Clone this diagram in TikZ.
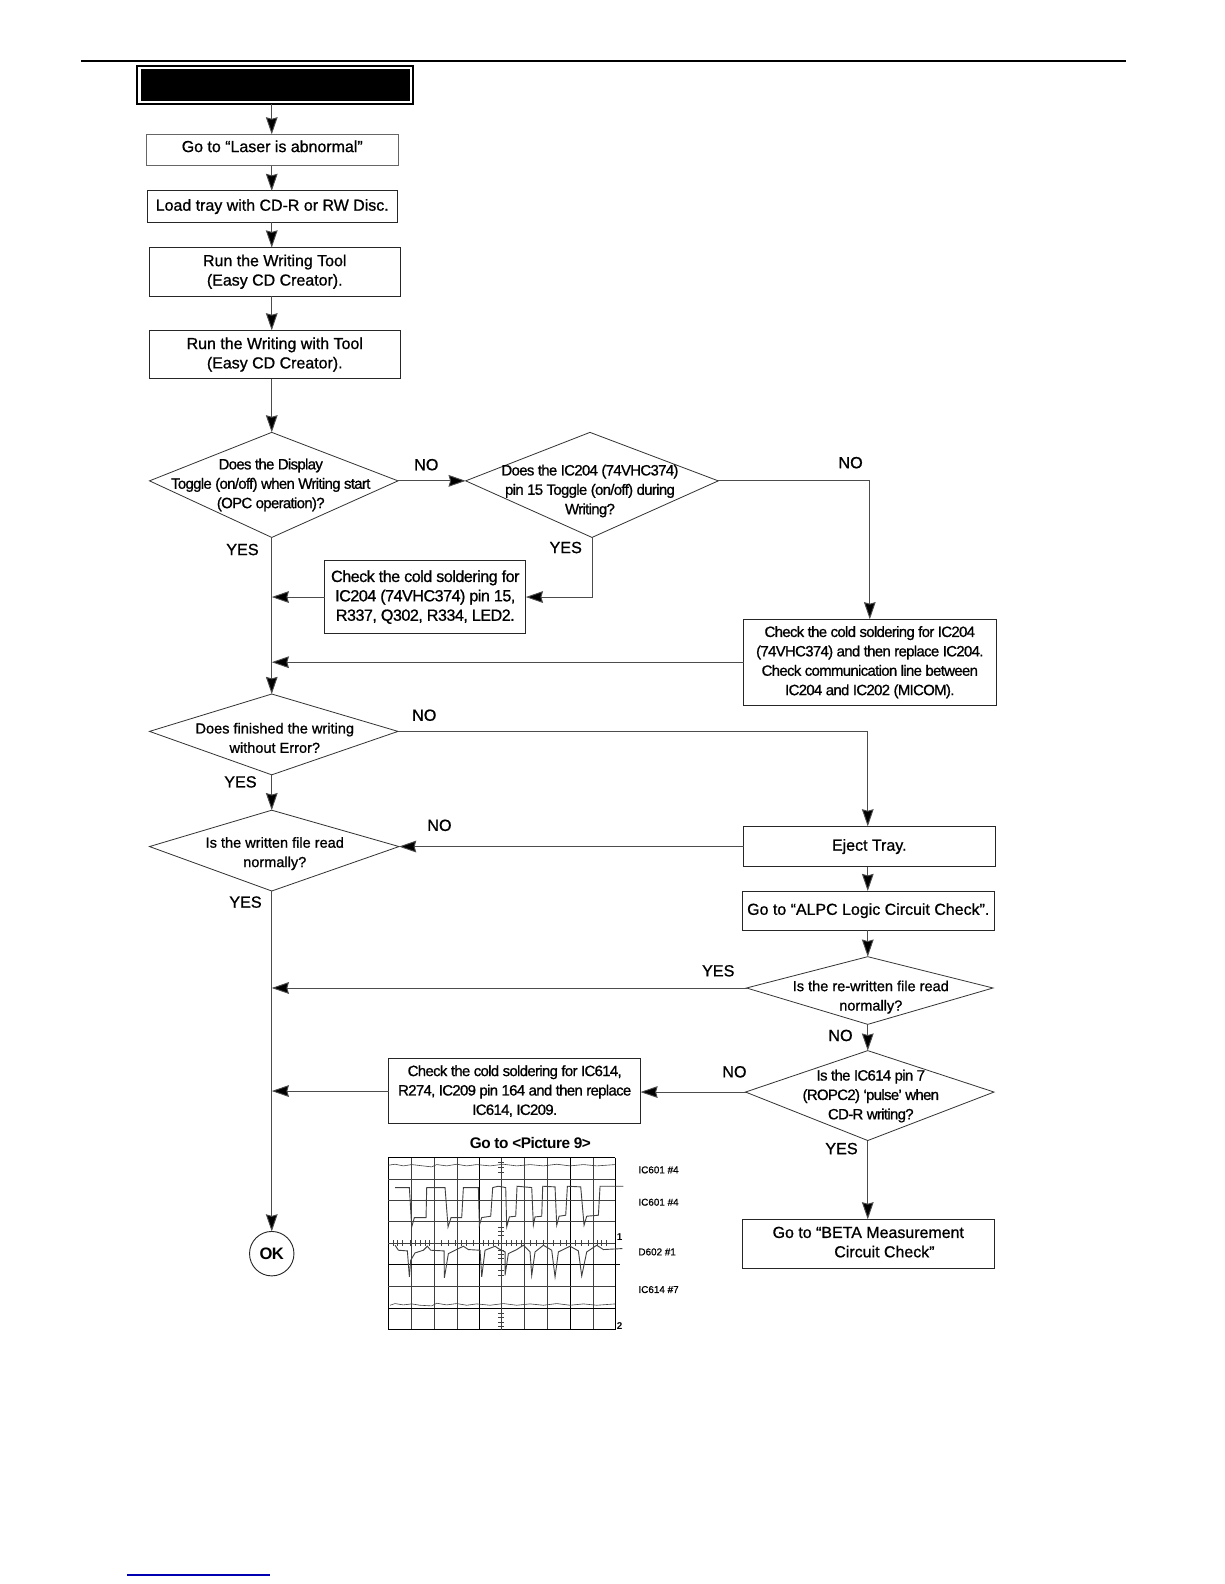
\documentclass[tikz,border=0pt]{standalone}
\usepackage{fontspec}
\setmainfont[FakeBold=0.9]{Liberation Sans}
\newfontfamily\tightf[FakeBold=0.9,LetterSpace=-4.5]{Liberation Sans}
\newfontfamily\trackf[FakeBold=0.9,LetterSpace=-3.2]{Liberation Sans}
\newfontfamily\boldf[LetterSpace=-3]{Liberation Sans Bold}
\usetikzlibrary{arrows.meta}
\tikzset{
  flowbox/.style={draw=black!85,line width=0.45pt,rectangle,inner sep=0pt,outer sep=0pt,align=center,font=\fontsize{7.9}{9.6}\selectfont},
  decline/.style={draw=black!80,line width=0.4pt},
  dplain/.style={align=center,inner sep=0pt,font=\fontsize{7.2}{9.6}\selectfont},
  dtight/.style={align=center,inner sep=0pt,font=\tightf\fontsize{7.4}{9.6}\selectfont},
  flow/.style={draw=black!70,line width=0.45pt,-{Stealth[inset=0.8pt,length=8.5pt,width=5.8pt,fill=black]}},
  lab/.style={font=\fontsize{8}{9.6}\selectfont,inner sep=0pt},
  scopelab/.style={font=\fontsize{4.9}{6}\selectfont,inner sep=0pt,anchor=west},
  gridthin/.style={draw=black!75,line width=0.3pt},
  gridthick/.style={draw=black,line width=0.5pt},
  trace/.style={draw=black!75,line width=0.3pt}
}
\newcommand{\boxat}[7][]{\node[flowbox,minimum width=#5*0.5pt,minimum height=#6*0.5pt,#1] (#2) at (#3,#4) {#7};}
% name, topx, topy, bottomx, bottomy, leftx, rightx, sidey
\newcommand{\decpts}[8]{%
  \coordinate (#1n) at (#2,#3); \coordinate (#1s) at (#4,#5);
  \coordinate (#1w) at (#6,#8); \coordinate (#1e) at (#7,#8);
  \draw[decline] (#1n) -- (#1e) -- (#1s) -- (#1w) -- cycle;}
\begin{document}
\begin{tikzpicture}[x=0.5pt,y=-0.5pt]
\useasboundingbox (0,0) rectangle (1212,1568);
\fill[white] (0,0) rectangle (1212,1568);
\coordinate (topL) at (80,60); \coordinate (topR) at (1115,60);
\draw[black,line width=1pt] (topL) -- (topR);
\coordinate (blueL) at (126,1559); \coordinate (blueR) at (267,1559);
\draw[blue!70!black,line width=0.7pt] (blueL) -- (blueR);
\node[draw=black,line width=0.9pt,fill=white,minimum width=136.5pt,minimum height=19pt,inner sep=0pt,outer sep=0pt] (hdr) at (272.5,84) {};
\fill[black] (139.5,68.5) rectangle (405.5,100);
\coordinate (mainx) at (269,0);
\coordinate (rightx) at (859,0);
\boxat[text depth=3.7pt,draw=black!60]{b1}{269.5}{148.5}{249}{31}{Go to “Laser is abnormal”}
\boxat{b2}{269.5}{204.5}{247}{31}{Load tray with CD-R or RW Disc.}
\boxat{b3}{272}{269}{248}{48}{Run the Writing Tool\\(Easy CD Creator).}
\boxat{b4}{272}{351}{248}{48}{Run the Writing with Tool\\(Easy CD Creator).}
\decpts{d1}{269}{428}{269}{532}{148}{394}{476}
\node[dtight] (d1) at (268,480) {Does the Display\\Toggle (on/off) when Writing start\\(OPC operation)?};
\decpts{d2}{584}{428}{586}{532}{461}{711}{476}
\node[dtight] (d2) at (584,486) {Does the IC204 (74VHC374)\\pin 15 Toggle (on/off) during\\Writing?};
\boxat[font=\trackf\fontsize{8}{9.6}\selectfont]{b5}{421}{591}{199}{72}{Check the cold soldering for\\IC204 (74VHC374) pin 15,\\R337, Q302, R334, LED2.}
\boxat[font=\tightf\fontsize{7.4}{9.6}\selectfont]{b6}{861}{655.5}{250}{85}{Check the cold soldering for IC204\\(74VHC374) and then replace IC204.\\Check communication line between\\IC204 and IC202 (MICOM).}
\decpts{d3}{269}{687}{269}{767}{148}{394}{724}
\node[dplain] (d3) at (272,730.5) {Does finished the writing\\without Error?};
\decpts{d4}{269}{802}{269}{882}{148}{395}{838}
\node[dplain] (d4) at (272,845) {Is the written file read\\normally?};
\boxat{b7}{860.5}{838}{249}{40}{Eject Tray.}
\boxat{b8}{859.5}{901.5}{249}{39}{Go to “ALPC Logic Circuit Check”.}
\decpts{d5}{859}{947}{859}{1014}{739}{983}{978}
\node[dplain] (d5) at (862,987) {Is the re-written file read\\normally?};
\decpts{d6}{859}{1040}{859}{1129}{738}{984}{1081}
\node[dtight] (d6) at (862,1085) {Is the IC614 pin 7\\(ROPC2) ‘pulse’ when\\CD-R writing?};
\boxat[font=\tightf\fontsize{7.4}{9.6}\selectfont]{b9}{509.5}{1080}{249}{64}{Check the cold soldering for IC614,\\R274, IC209 pin 164 and then replace\\IC614, IC209.}
\boxat[text depth=2pt]{b10}{859.5}{1231.5}{249}{49}{Go to “BETA Measurement\\\hspace*{16pt}Circuit Check”}
\node[draw=black!85,line width=0.45pt,circle,minimum size=22pt,inner sep=0pt,outer sep=0pt,font=\boldf\fontsize{8.2}{10}\selectfont] (ok) at (269,1241) {OK};
% connectors
\draw[flow] (hdr.south -| mainx) -- (b1.north -| mainx);
\draw[flow] (b1.south -| mainx) -- (b2.north -| mainx);
\draw[flow] (b2.south -| mainx) -- (b3.north -| mainx);
\draw[flow] (b3.south -| mainx) -- (b4.north -| mainx);
\draw[flow] (b4.south -| mainx) -- (d1n);
\draw[flow] (d1s) -- (d3n);
\draw[flow] (d3s) -- (d4n);
\draw[flow] (d4s) -- (ok.north);
\draw[flow] (d1e) -- (d2w);
\draw[flow] (d2s) |- (b5.east);
\draw[flow] (b5.west) -- (b5.west -| mainx);
\draw[flow] (d2e) -| (b6.north);
\draw[flow] (b6.west) -- (b6.west -| mainx);
\draw[flow] (d3e) -| (b7.north -| rightx);
\draw[flow] (b7.west) -- (d4e);
\draw[flow] (b7.south -| rightx) -- (b8.north -| rightx);
\draw[flow] (b8.south -| rightx) -- (d5n);
\draw[flow] (d5w) -- (d5w -| mainx);
\draw[flow] (d5s) -- (d6n);
\draw[flow] (d6w) -- (b9.east |- d6w);
\draw[flow] (b9.west) -- (b9.west -| mainx);
\draw[flow] (d6s) -- (b10.north -| rightx);
% labels
\node[lab] (l1) at (422,460) {NO};
\node[lab] (l2) at (842,458) {NO};
\node[lab] (l3) at (240,544) {YES};
\node[lab] (l4) at (560,542) {YES};
\node[lab] (l5) at (420,708) {NO};
\node[lab] (l6) at (238,774) {YES};
\node[lab] (l7) at (435,817) {NO};
\node[lab] (l8) at (243,893) {YES};
\node[lab] (l9) at (711,961) {YES};
\node[lab] (l10) at (832,1025) {NO};
\node[lab] (l11) at (727,1061) {NO};
\node[lab] (l12) at (833,1137) {YES};
\node[lab,font=\boldf\fontsize{7.6}{9}\selectfont] (pic) at (525,1131) {Go to <Picture 9>};
% oscilloscope picture
\begin{scope}[shift={(366.3,1099)},x=0.165pt,y=-0.165pt]
\foreach \gx in {124,193,262,463,532,670} \draw[gridthin] (\gx,142) -- (\gx,658);
\foreach \gx in {55,328,601,736} \draw[gridthick] (\gx,142) -- (\gx,658);
\foreach \gy in {208,271,334,398,529} \draw[gridthin] (55,\gy) -- (736,\gy);
\foreach \gy in {142,595,658} \draw[gridthick] (55,\gy) -- (736,\gy);
\draw[gridthick] (55,463) -- (750,463);
\draw[gridthin] (393,142) -- (393,658);
\foreach \gx in {70,83,96,120,135,150,165,178,215,235,255,275,290,310,340,355,370,385,410,425,440,455,480,500,520,550,570,590,615,635,655,682,695,710} \draw[gridthin] (\gx,390) -- (\gx,406);
\foreach \gy in {155,170,185,350,362,375,420,432,445,480,495,610,622,635,648} \draw[gridthin] (385,\gy) -- (401,\gy);
\draw[trace] (55,165) -- (75,162) -- (100,167) -- (125,163) -- (150,166) -- (185,170) -- (200,163) -- (230,167) -- (260,162) -- (290,167) -- (320,163) -- (360,167) -- (400,162) -- (440,167) -- (480,163) -- (520,167) -- (560,162) -- (600,167) -- (640,163) -- (680,167) -- (736,163);
\draw[trace] (60,585) -- (75,580) -- (100,584) -- (125,581) -- (150,585) -- (185,587) -- (200,579) -- (230,584) -- (260,580) -- (290,585) -- (320,581) -- (360,585) -- (400,580) -- (440,585) -- (480,581) -- (520,585) -- (560,580) -- (600,585) -- (640,581) -- (680,585) -- (736,581);
\draw[trace,line width=0.45pt] (75,232) -- (118,232) -- (125,350) -- (133,322) -- (168,322) -- (170,232) -- (225,232) -- (234,350) -- (243,322) -- (275,322) -- (280,232) -- (325,232) -- (328,345) -- (335,322) -- (362,318) -- (368,232) -- (385,228) -- (407,232) -- (410,350) -- (418,320) -- (437,318) -- (441,228) -- (485,232) -- (490,345) -- (495,320) -- (515,318) -- (518,228) -- (555,230) -- (560,345) -- (567,318) -- (587,315) -- (592,228) -- (632,230) -- (642,345) -- (650,318) -- (685,315) -- (690,228) -- (760,228);
\draw[trace,line width=0.45pt] (75,405) -- (85,420) -- (112,422) -- (118,500) -- (122,450) -- (135,428) -- (160,420) -- (172,408) -- (182,420) -- (222,422) -- (223,503) -- (235,430) -- (255,420) -- (280,408) -- (295,418) -- (330,420) -- (335,500) -- (345,420) -- (375,408) -- (385,415) -- (405,425) -- (405,495) -- (415,430) -- (440,418) -- (460,405) -- (480,425) -- (485,495) -- (495,425) -- (520,405) -- (545,420) -- (555,500) -- (565,425) -- (600,408) -- (625,422) -- (635,497) -- (650,425) -- (680,405) -- (700,418) -- (757,415);
\node[font=\boldf\fontsize{4.9}{6}\selectfont,inner sep=0pt] (m1) at (749,380) {1};
\node[font=\boldf\fontsize{4.9}{6}\selectfont,inner sep=0pt] (m2) at (749,646) {2};
\node[scopelab] (s1) at (804,179) {IC601 \#4};
\node[scopelab] (s2) at (804,276) {IC601 \#4};
\node[scopelab] (s3) at (804,425) {D602 \#1};
\node[scopelab] (s4) at (804,538) {IC614 \#7};
\end{scope}
\end{tikzpicture}
\end{document}
